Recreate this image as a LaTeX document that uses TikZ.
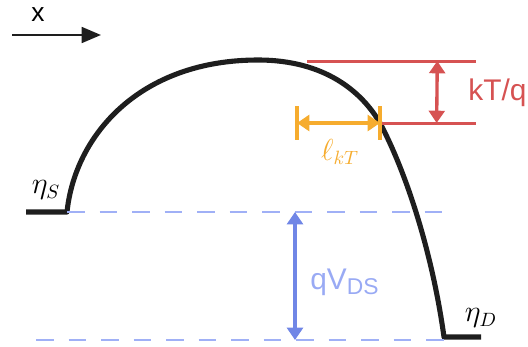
\documentclass[tikz,border=0pt]{standalone}
\usepackage{fontspec}
\setsansfont{Liberation Sans}
\usepackage{tikz}
\usetikzlibrary{arrows.meta, calc}
\definecolor{band}{RGB}{30,30,30}
\definecolor{kTred}{RGB}{214,82,82}
\definecolor{lorange}{RGB}{246,172,46}
\definecolor{vblue}{RGB}{112,134,230}
\definecolor{vdash}{RGB}{160,176,246}
\tikzset{
  bandline/.style={draw=band, line width=2.9pt, line join=round},
  level/.style={draw=kTred, line width=1.7pt},
  dashlevel/.style={draw=vdash, line width=1.6pt, dash pattern=on 10pt off 8.5pt},
  dim/.style={line width=1.9pt, {Triangle[width=9pt,length=7pt]}-{Triangle[width=9pt,length=7pt]}},
  lbl/.style={font=\sffamily\fontsize{17}{20}\selectfont, inner sep=0pt},
  mlbl/.style={font=\fontsize{16}{19}\selectfont, inner sep=0pt},
}
\begin{document}
\begin{tikzpicture}[x=0.02cm, y=-0.02cm]
  \useasboundingbox (0,0) rectangle (528,346);

  % x direction
  \coordinate (xa) at (12,35);
  \coordinate (xb) at (101,35);
  \draw[band, line width=1.3pt, -{Triangle[width=9pt,length=11pt]}] (xa) -- (xb);
  \node[lbl, font=\sffamily\fontsize{15}{18}\selectfont] (xlbl) at (38,15) {x};

  % band profile
  \coordinate (S0) at (26,212);
  \coordinate (S1) at (67,212);
  \coordinate (top) at (258,60);
  \coordinate (cross) at (380,123);
  \coordinate (D1) at (444,337);
  \coordinate (D0) at (481,337);
  \draw[bandline] (S0) -- (S1)
    .. controls (75,135) and (140,60) .. (top)
    .. controls (325,60) and (362,92) .. (cross)
    .. controls (405,170) and (432,250) .. (D1) -- (D0);

  % kT/q
  \coordinate (r1a) at (307,61);
  \coordinate (r1b) at (476,61);
  \coordinate (r2a) at (380,123);
  \coordinate (r2b) at (476,123);
  \draw[level] (r1a) -- (r1b);
  \draw[level] (r2a) -- (r2b);
  \draw[dim, kTred] ($(r1a)!0.771!(r1b)$) -- ($(r2a)!0.59!(r2b)$);
  \node[lbl, text=kTred, anchor=west] (kT) at (468,93) {kT/q};

  % l_kT
  \coordinate (la) at (297,123);
  \coordinate (lb) at (380,123);
  \draw[lorange, line width=2pt] ($(la)+(0,-17)$) -- ($(la)+(0,17)$);
  \draw[lorange, line width=2pt] ($(lb)+(0,-17)$) -- ($(lb)+(0,17)$);
  \draw[dim, lorange] (la) -- (lb);
  \node[mlbl, text=lorange] (lkT) at (340,152) {$\ell_{kT}$};

  % qV_DS
  \coordinate (b1a) at (67,212);
  \coordinate (b1b) at (448,212);
  \coordinate (b2a) at (36,340);
  \coordinate (b2b) at (444,340);
  \draw[dashlevel] (b1a) -- (b1b);
  \draw[dashlevel] (b2a) -- (b2b);
  \coordinate (va) at (295,212);
  \coordinate (vb) at (295,340);
  \draw[dim, vblue] (va) -- (vb);
  \node[lbl, text=vdash!85!vblue, anchor=west] (qV) at (310,282) {qV\textsubscript{\fontsize{13}{15}\selectfont DS}};

  % quasi-Fermi levels
  \node[mlbl] (etaS) at (46,190) {$\eta_S$};
  \node[mlbl] (etaD) at (481,318) {$\eta_D$};
\end{tikzpicture}
\end{document}
